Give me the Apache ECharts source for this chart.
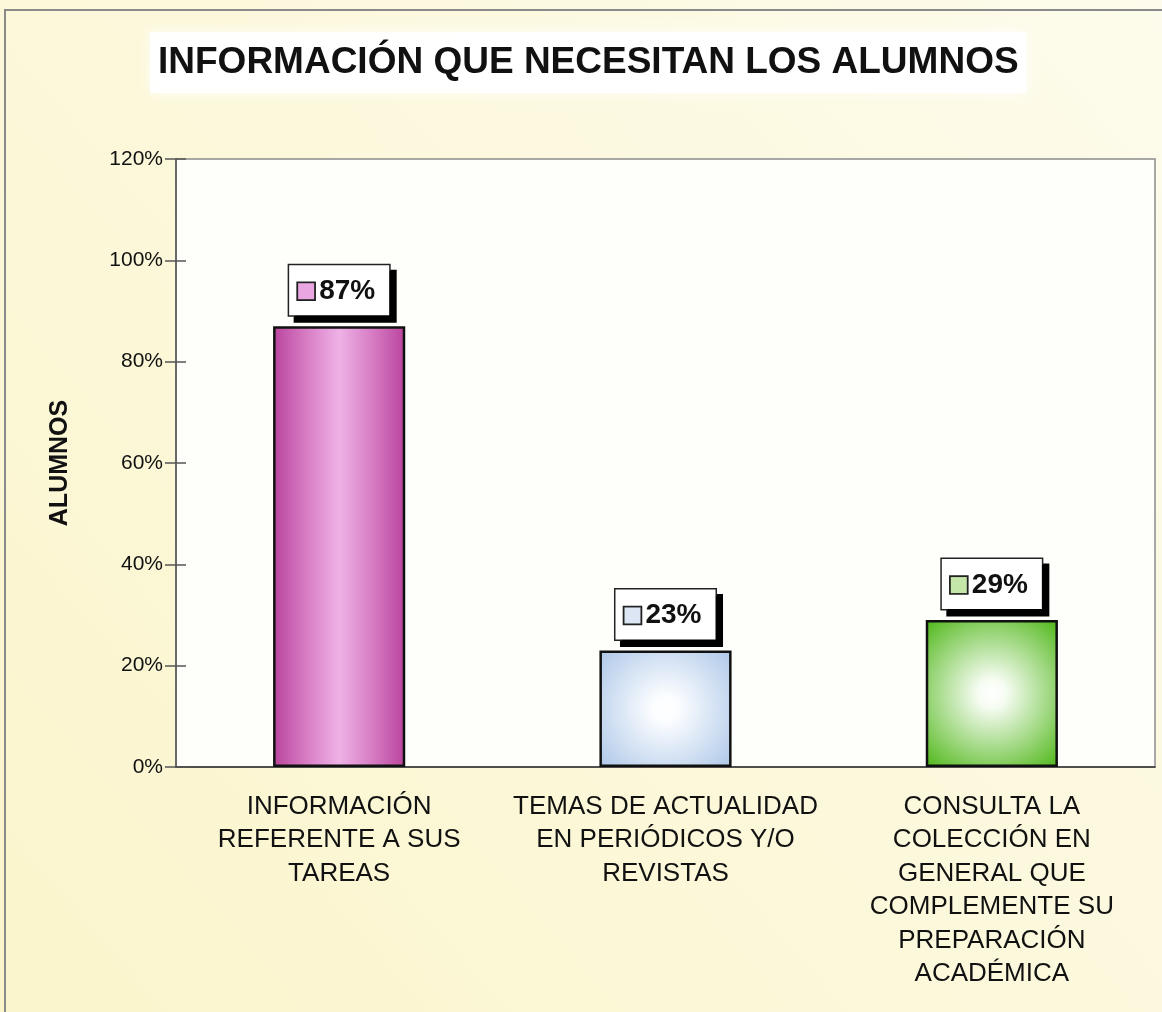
<!DOCTYPE html>
<html>
<head>
<meta charset="utf-8">
<title>Información que necesitan los alumnos</title>
<script src="https://cdn.jsdelivr.net/npm/echarts@6/dist/echarts.min.js"></script>
<style>
  html, body { margin: 0; padding: 0; background: #fdfbe8; }
  #grafica { width: 1162px; height: 1012px; }
</style>
</head>
<body>
<div id="grafica"></div>
<script>
// datos
const titulo = 'INFORMACIÓN QUE NECESITAN LOS ALUMNOS'
const ejeY = 'ALUMNOS'
const categorias = [
  'INFORMACIÓN\nREFERENTE A SUS\nTAREAS',
  'TEMAS DE ACTUALIDAD\nEN PERIÓDICOS Y/O\nREVISTAS',
  'CONSULTA LA\nCOLECCIÓN EN\nGENERAL QUE\nCOMPLEMENTE SU\nPREPARACIÓN\nACADÉMICA'
]
const porcentajes = [87, 23, 29]
const yMin = 0
const yMax = 120
const yPaso = 20

const fuente = '"Liberation Sans", Arial, sans-serif'

// rellenos de las barras (degradado desde el centro)
const rellenos = [
  new echarts.graphic.LinearGradient(0, 0, 1, 0, [
    { offset: 0, color: '#b9449c' },
    { offset: 0.25, color: '#d77cc4' },
    { offset: 0.5, color: '#eeb2e6' },
    { offset: 0.75, color: '#d77cc4' },
    { offset: 1, color: '#b9449c' }
  ]),
  new echarts.graphic.RadialGradient(0.5, 0.5, 0.75, [
    { offset: 0, color: '#ffffff' },
    { offset: 0.15, color: '#fbfdff' },
    { offset: 1, color: '#adc7e8' }
  ]),
  new echarts.graphic.RadialGradient(0.5, 0.5, 0.72, [
    { offset: 0, color: '#ffffff' },
    { offset: 0.15, color: '#f6fcf2' },
    { offset: 1, color: '#55b920' }
  ])
]
const cuadros = ['#eaa6e0', '#dce6f4', '#c4e6a8']

const chart = echarts.init(document.getElementById('grafica'))

const option = {
  backgroundColor: new echarts.graphic.LinearGradient(1, 0, 0, 1, [
    { offset: 0, color: '#fdfbeb' },
    { offset: 1, color: '#fbf5cc' }
  ]),
  animation: false,
  graphic: [
    {
      type: 'rect',
      shape: { x: 5, y: 10, width: 1170, height: 1020 },
      style: { fill: 'none', stroke: '#8a8a8a', lineWidth: 2 },
      silent: true
    }
  ],
  title: {
    text: titulo,
    left: 150,
    top: 32,
    padding: [12, 8, 12, 8],
    backgroundColor: 'rgba(255,255,255,0.92)',
    shadowColor: 'rgba(255,255,255,0.9)',
    shadowBlur: 12,
    textStyle: {
      fontFamily: fuente,
      fontSize: 37,
      fontWeight: 'bold',
      color: '#111'
    }
  },
  grid: {
    left: 176,
    right: 7,
    top: 159,
    bottom: 245,
    show: true,
    backgroundColor: '#fefefb',
    borderColor: '#8c8c8c',
    borderWidth: 1.5
  },
  xAxis: [
    {
      type: 'category',
      data: categorias,
      axisLine: { lineStyle: { color: '#333', width: 1.5 } },
      axisTick: { length: 8, lineStyle: { color: '#333', width: 1.5 } },
      axisLabel: {
        interval: 0,
        margin: 23,
        fontFamily: fuente,
        fontSize: 26,
        lineHeight: 33.5,
        color: '#111'
      }
    },
    {
      type: 'category',
      data: categorias,
      position: 'bottom',
      axisLine: { show: false },
      axisTick: { inside: true, length: 8, lineStyle: { color: '#333', width: 1.5 } },
      axisLabel: { show: false }
    }
  ],
  yAxis: [
    {
      type: 'value',
      min: yMin,
      max: yMax,
      interval: yPaso,
      name: ejeY,
      nameLocation: 'middle',
      nameGap: 103,
      nameRotate: 90,
      nameTextStyle: {
        fontFamily: fuente,
        fontSize: 25,
        fontWeight: 'bold',
        color: '#111'
      },
      axisLine: { show: true, lineStyle: { color: '#555', width: 1.5 } },
      axisTick: { show: true, length: 11, lineStyle: { color: '#555', width: 1.5 } },
      splitLine: { show: false },
      axisLabel: {
        margin: 13,
        formatter: '{value}%',
        fontFamily: fuente,
        fontSize: 21,
        color: '#111'
      }
    },
    {
      type: 'value',
      min: yMin,
      max: yMax,
      interval: yPaso,
      position: 'left',
      axisLine: { show: false },
      axisTick: { show: true, inside: true, length: 10, lineStyle: { color: '#555', width: 1.5 } },
      splitLine: { show: false },
      axisLabel: { show: false }
    }
  ],
  series: [
    {
      type: 'bar',
      barWidth: '40.5%',
      data: porcentajes.map((v, i) => ({
        value: v,
        itemStyle: { color: rellenos[i] }
      })),
      itemStyle: {
        borderColor: '#111',
        borderWidth: 2.5
      },
      label: {
        show: true,
        position: 'top',
        distance: 11,
        formatter: (p) => '{s' + p.dataIndex + '|}{v|' + p.value + '%}',
        backgroundColor: '#fff',
        borderColor: '#222',
        borderWidth: 1.5,
        shadowColor: '#000',
        shadowBlur: 0,
        shadowOffsetX: 6,
        shadowOffsetY: 6,
        padding: [12, 14, 10, 9],
        rich: {
          v: { fontFamily: fuente, fontSize: 28, fontWeight: 'bold', color: '#111', padding: [0, 0, 0, 5] },
          s0: { width: 16, height: 16, backgroundColor: cuadros[0], borderColor: '#222', borderWidth: 1.8 },
          s1: { width: 16, height: 16, backgroundColor: cuadros[1], borderColor: '#222', borderWidth: 1.8 },
          s2: { width: 16, height: 16, backgroundColor: cuadros[2], borderColor: '#222', borderWidth: 1.8 }
        }
      }
    }
  ]
}

chart.setOption(option)
</script>
</body>
</html>
